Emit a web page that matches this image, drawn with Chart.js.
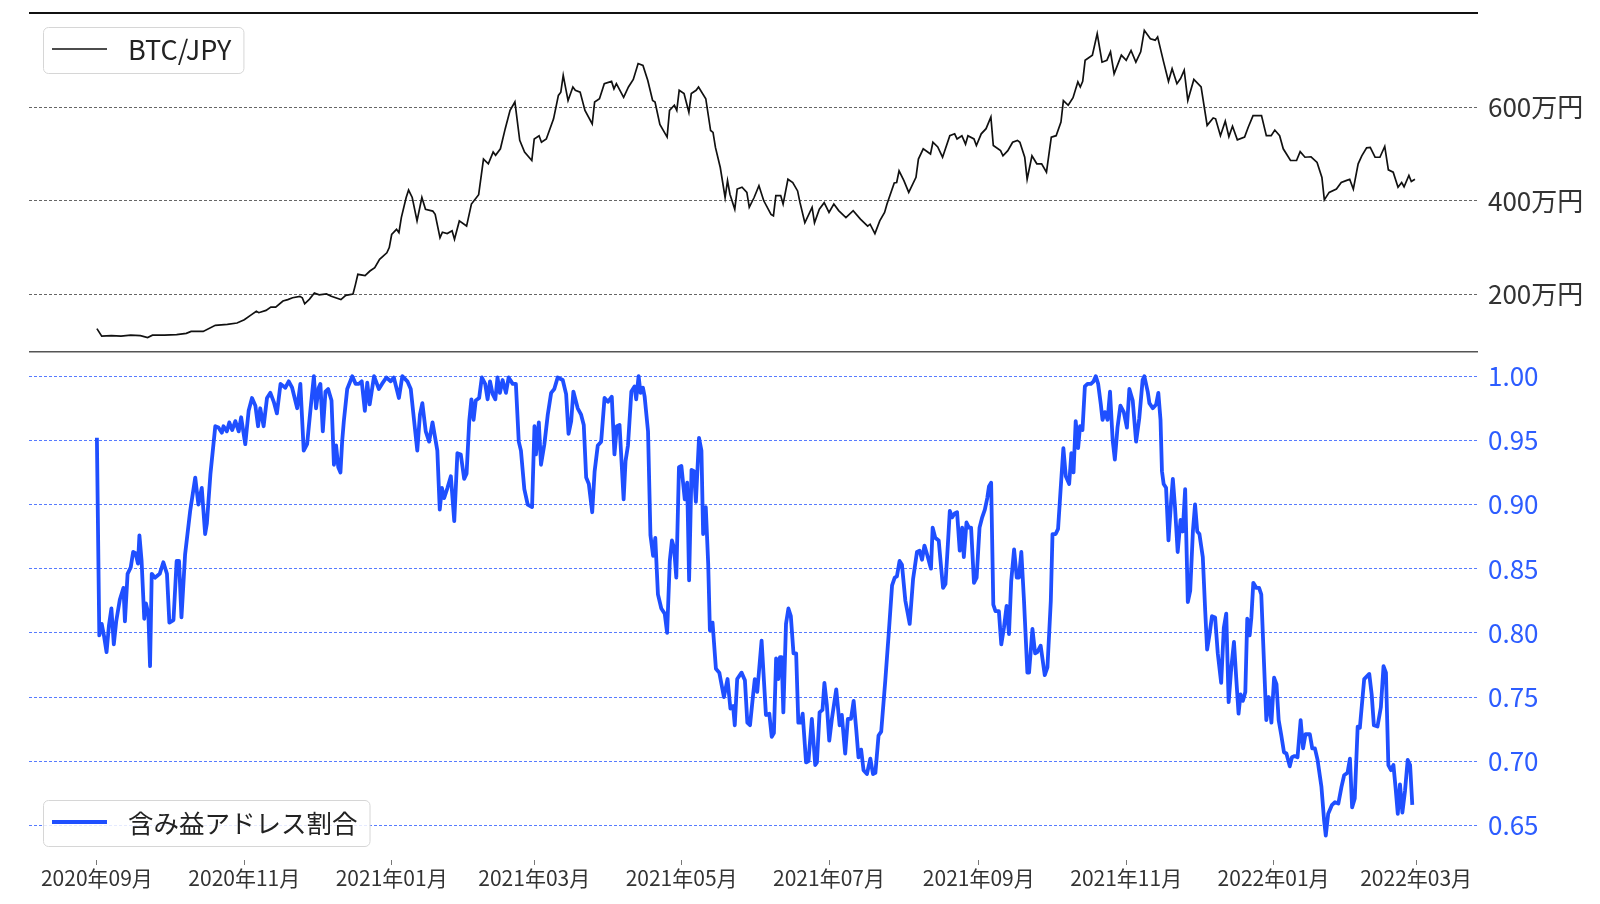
<!DOCTYPE html>
<html lang="ja">
<head>
<meta charset="utf-8">
<title>BTC/JPY と含み益アドレス割合</title>
<script src="https://cdn.jsdelivr.net/npm/chart.js@4.4.1/dist/chart.umd.min.js"></script>
<style>
  html, body { margin: 0; padding: 0; background: #fff; }
  #wrap { width: 1600px; height: 904px; position: relative; }
</style>
</head>
<body>
<div id="wrap"><canvas id="chart" width="1600" height="904"></canvas></div>
<script>
// 日数は 2020-09-01 からの経過日数
const xTickDays   = [0, 61, 122, 181, 242, 303, 365, 426, 487, 546];
const xTickLabels = ['2020年09月', '2020年11月', '2021年01月', '2021年03月', '2021年05月',
                     '2021年07月', '2021年09月', '2021年11月', '2022年01月', '2022年03月'];

const btcTicks   = [200, 400, 600];           // 万円
const ratioTicks = [0.65, 0.70, 0.75, 0.80, 0.85, 0.90, 0.95, 1.00];

// BTC/JPY (万円)
const btcDays = [
  0, 2, 6, 10, 14, 18, 21, 23, 28, 33,
  37, 39, 44, 49, 54, 58, 61, 64, 66, 67,
  70, 72, 74, 77, 79, 81, 84, 85, 86, 88,
  90, 92, 95, 97, 101, 103, 106, 107, 108, 111,
  113, 115, 117, 120, 121, 122, 124, 125, 126, 128,
  129, 130.5, 132.5, 134.5, 136, 139, 140, 142, 143, 145,
  147, 148, 150, 153, 155, 158, 160, 162, 164, 165,
  167, 169, 171, 173, 175, 177, 180, 181, 183, 184,
  186, 189, 191, 192, 193, 195, 197, 198, 200, 202,
  205, 206, 208, 210, 213, 214, 215, 218, 220, 222,
  224, 226, 228, 230, 231, 233, 236, 237, 239, 240,
  241, 243, 245, 246, 248, 249, 252, 254, 255, 256,
  258, 260, 261, 262, 264, 265, 267, 269, 270, 272,
  274, 276, 279, 280, 281, 283, 284, 286, 288, 290,
  291, 293, 296, 297, 299, 301, 303, 305, 307, 310,
  313, 316, 319, 320, 322, 324, 326, 327, 330, 331,
  332, 334, 336, 339, 340, 342, 345, 346, 348, 350,
  353, 355, 356, 358, 359.5, 360.5, 363, 364, 366, 368,
  370, 371, 374, 375, 377, 379, 381, 382, 384, 385,
  387, 389, 391, 393, 395, 397, 399, 400, 402, 404,
  406, 407, 408, 409, 412, 414, 416, 418, 419.5, 421,
  424, 426, 428, 430, 432, 433.5, 436, 438, 439, 441.5,
  443.5, 445, 447, 448.5, 450, 451.5, 454, 457, 459.5, 462,
  463, 465, 467, 468.5, 470, 472, 475, 476.5, 478.5, 482,
  484, 486, 487.5, 489.5, 491, 494, 496.5, 498, 500, 502.5,
  505, 507, 508, 510, 513, 515, 517, 518.5, 520, 522,
  523.5, 525.5, 527, 529, 531, 533, 534.5, 536.5, 538.5, 540,
  541, 543, 544, 545.5
];
const btcMan = [
  127, 111, 112, 111, 113, 112, 108, 113, 113, 114,
  117, 121, 121, 134, 136, 139, 146, 157, 164, 161,
  166, 173, 173, 186, 189, 193, 196, 193, 180, 190,
  203, 199, 201, 196, 189, 198, 201, 221, 243, 240,
  250, 257, 275, 289, 300, 328, 339, 332, 364, 407,
  423, 407, 357, 407, 382, 378, 371, 321, 333, 330,
  336, 318, 357, 346, 393, 413, 489, 479, 504, 497,
  511, 554, 593, 611, 529, 504, 486, 532, 539, 525,
  532, 575, 625, 632, 668, 614, 643, 636, 632, 593,
  564, 611, 618, 650, 655, 639, 650, 621, 643, 659,
  693, 689, 657, 614, 611, 563, 536, 593, 604, 593,
  636, 629, 589, 629, 636, 643, 618, 550, 546, 514,
  471, 407, 443, 414, 382, 425, 429, 418, 386, 407,
  432, 400, 371, 368, 411, 411, 393, 446, 439, 421,
  396, 353, 386, 353, 382, 396, 375, 393, 379, 364,
  379, 361, 346, 350, 330, 357, 375, 393, 438, 439,
  464, 443, 418, 450, 489, 511, 500, 525, 515, 493,
  539, 543, 532, 539, 521, 539, 532, 518, 543, 554,
  579, 518, 507, 496, 507, 525, 529, 525, 493, 446,
  496, 479, 479, 461, 536, 539, 568, 614, 604, 620,
  654, 643, 655, 700, 711, 757, 696, 700, 718, 671,
  711, 700, 721, 696, 718, 764, 746, 743, 750, 696,
  655, 682, 650, 661, 679, 614, 659, 643, 561, 577,
  575, 539, 570, 537, 559, 530, 536, 557, 582, 582,
  539, 539, 551, 539, 511, 486, 486, 505, 493, 494,
  482, 450, 402, 418, 425, 439, 443, 446, 425, 479,
  496, 513, 514, 493, 493, 516, 466, 461, 429, 439,
  430, 454, 441, 446
];

// 含み益アドレス割合
const ratioDays = [
  0, 1, 2, 3, 4, 5, 6, 7, 8, 9.5,
  11, 11.6, 12.7, 14, 15, 16, 17, 17.6, 18.5, 19.6,
  20.3, 21.3, 22, 22.7, 24, 26, 27.5, 29, 30, 31.7,
  33, 34, 35, 36.5, 38.6, 40.7, 42, 43.4, 44.8, 45.5,
  47, 49, 50.3, 51.7, 52.4, 53.8, 54.8, 56, 57.3, 58.7,
  59.7, 61.4, 62.8, 64.2, 65.6, 66.7, 67.6, 69, 70.4, 71.8,
  73.2, 74.5, 76, 78, 79.4, 80.8, 82.9, 84.2, 85.6, 87,
  88.4, 89.8, 90.7, 91.8, 92.5, 93.5, 94.6, 95.7, 97.1, 98.1,
  99, 99.9, 100.8, 101.5, 102.2, 103.6, 105.7, 107.1, 108.4, 109.6,
  110.9, 111.9, 112.9, 114.7, 116.7, 118, 119.8, 121.6, 122.9, 125,
  126.4, 128.5, 129.9, 131.3, 132.6, 133.7, 134.7, 136.1, 137.5, 138.9,
  140.9, 141.9, 142.8, 143.7, 145.1, 146.5, 147.9, 149.2, 150.6, 152,
  153, 154.1, 155, 155.9, 156.8, 158.2, 159.3, 160.7, 161.7, 162.7,
  163.8, 164.9, 165.8, 166.8, 167.9, 169.3, 170.4, 172.1, 173.4, 174.6,
  175.5, 176.9, 178.3, 180.1, 181.1, 181.7, 182.9, 183.8, 185.2, 186.6,
  188, 189.3, 190.7, 192.8, 194.2, 195.2, 196.3, 197.2, 199, 200.4,
  201.5, 202.5, 203.6, 205, 206, 207.3, 208.7, 210.1, 211.5, 213.1,
  214.2, 215.2, 216.3, 218, 218.8, 219.8, 221.2, 222.5, 223.2, 224.2,
  225, 226, 226.7, 228.1, 229.1, 230.2, 231.1, 232.2, 233.6, 235,
  236, 237.1, 238, 238.9, 239.8, 240.9, 241.9, 243.3, 244.3, 245.1,
  246.1, 247.1, 247.9, 249.2, 250.2, 250.9, 252, 253, 253.7, 254.8,
  256.2, 257.6, 259.5, 261, 262.2, 263.3, 264, 265, 266.8, 268.2,
  269.2, 270.3, 271.6, 272.3, 273.3, 275.1, 276.9, 278.3, 279.3, 280.2,
  281.1, 282, 282.7, 283.4, 284.1, 285.2, 286.2, 287.2, 288.3, 289.4,
  290.3, 291.4, 292.1, 293.5, 294.5, 295.9, 297.3, 298, 299.1, 300.3,
  301.1, 302.1, 303.1, 304.2, 306, 307.4, 308.3, 309.7, 310.8, 312.1,
  313.2, 314.3, 315.2, 316.3, 317.3, 318.7, 320.1, 321.2, 322.2, 323.5,
  324.6, 326.3, 327.7, 329.1, 330.2, 331.1, 332.2, 333.2, 334.6, 336.4,
  337.8, 339.4, 340.5, 341.5, 342.5, 343.6, 345.2, 345.9, 347, 348.4,
  349.4, 350.2, 351.2, 352.2, 353, 354, 355, 356, 357.1, 358.1,
  358.8, 359.9, 360.9, 361.8, 363, 364.1, 365.3, 366.4, 367.5, 368.5,
  369.2, 370.1, 371, 371.9, 373.3, 374.3, 375.4, 376.5, 377.5, 378.4,
  379.6, 380.7, 381.6, 382.6, 383.7, 385.1, 385.8, 387.2, 388.3, 389.2,
  390.6, 392.3, 393.4, 394.8, 395.5, 396.8, 397.8, 398.9, 400, 401,
  402.4, 403.3, 404.2, 405.1, 406.1, 406.9, 407.9, 408.9, 410, 411.4,
  412.5, 413.4, 414.4, 415.5, 416.2, 417.2, 418.3, 419.3, 420.4, 421.3,
  422.4, 423.6, 425, 426.3, 427.3, 428.7, 430.1, 431.4, 432.8, 433.5,
  434.9, 435.6, 437, 438.4, 439.3, 440.2, 440.8, 441.5, 442.5, 443.5,
  444.6, 445.3, 446.2, 447.3, 448.5, 449.4, 450.4, 451.5, 452.5, 453.6,
  454.5, 455.4, 456.3, 457.7, 458.7, 459.5, 460.5, 461.5, 462.8, 463.9,
  465.3, 466.4, 467.4, 468.4, 469.5, 470.6, 471.6, 472.5, 473.3, 474.3,
  475.3, 476.1, 477.1, 477.8, 478.6, 479.9, 481, 481.9, 483, 484,
  485, 486.1, 487.2, 488.2, 489.1, 490.2, 491.3, 492.3, 493.7, 494.6,
  495.7, 496.9, 498.2, 499.2, 500.2, 502, 503, 504.1, 505.2, 506.8,
  507.9, 508.6, 509.6, 511.2, 512.4, 513.8, 515.1, 516.2, 517.6, 518.6,
  519.5, 520.6, 521.8, 522.7, 524.5, 526.6, 527.6, 528.5, 530, 531.4,
  532.5, 533.5, 534.5, 535.6, 536.6, 537.5, 538.4, 539.3, 540.3, 541.4,
  542.5, 543.5, 544.4
];
const ratioValues = [
  0.952, 0.798, 0.807, 0.797, 0.785, 0.806, 0.819, 0.791, 0.809, 0.826,
  0.835, 0.809, 0.846, 0.851, 0.863, 0.862, 0.854, 0.876, 0.856, 0.811,
  0.823, 0.815, 0.774, 0.846, 0.843, 0.846, 0.855, 0.846, 0.808, 0.810,
  0.856, 0.856, 0.812, 0.861, 0.895, 0.921, 0.900, 0.913, 0.877, 0.885,
  0.924, 0.961, 0.960, 0.956, 0.961, 0.957, 0.964, 0.958, 0.965, 0.957,
  0.968, 0.947, 0.973, 0.983, 0.977, 0.961, 0.975, 0.961, 0.983, 0.987,
  0.980, 0.971, 0.994, 0.991, 0.996, 0.991, 0.975, 0.994, 0.942, 0.947,
  0.974, 1.000, 0.975, 0.991, 0.994, 0.957, 0.988, 0.990, 0.981, 0.931,
  0.946, 0.929, 0.925, 0.949, 0.965, 0.990, 1.000, 0.994, 0.994, 0.996,
  0.973, 0.995, 0.978, 1.000, 0.990, 0.994, 0.999, 0.996, 0.999, 0.983,
  1.000, 0.996, 0.990, 0.965, 0.942, 0.970, 0.979, 0.957, 0.949, 0.964,
  0.942, 0.896, 0.913, 0.905, 0.913, 0.922, 0.887, 0.940, 0.939, 0.920,
  0.924, 0.965, 0.982, 0.966, 0.981, 0.983, 0.999, 0.994, 0.982, 0.996,
  0.986, 0.982, 0.999, 0.987, 0.997, 0.987, 0.999, 0.994, 0.994, 0.949,
  0.942, 0.912, 0.900, 0.898, 0.961, 0.939, 0.964, 0.931, 0.947, 0.970,
  0.987, 0.990, 0.999, 0.997, 0.986, 0.955, 0.965, 0.988, 0.975, 0.970,
  0.962, 0.921, 0.916, 0.894, 0.926, 0.946, 0.949, 0.983, 0.980, 0.984,
  0.939, 0.961, 0.962, 0.904, 0.934, 0.946, 0.988, 0.992, 0.982, 1.000,
  0.987, 0.991, 0.984, 0.957, 0.876, 0.860, 0.874, 0.830, 0.819, 0.815,
  0.800, 0.856, 0.872, 0.866, 0.843, 0.929, 0.930, 0.904, 0.917, 0.841,
  0.927, 0.926, 0.902, 0.952, 0.942, 0.877, 0.898, 0.854, 0.802, 0.808,
  0.772, 0.769, 0.750, 0.764, 0.741, 0.743, 0.728, 0.764, 0.769, 0.763,
  0.730, 0.728, 0.752, 0.764, 0.754, 0.794, 0.736, 0.737, 0.719, 0.722,
  0.780, 0.764, 0.781, 0.781, 0.738, 0.807, 0.819, 0.813, 0.784, 0.784,
  0.730, 0.730, 0.737, 0.699, 0.700, 0.733, 0.697, 0.699, 0.738, 0.740,
  0.761, 0.744, 0.716, 0.733, 0.756, 0.728, 0.736, 0.706, 0.733, 0.733,
  0.747, 0.724, 0.703, 0.709, 0.693, 0.690, 0.702, 0.690, 0.691, 0.720,
  0.723, 0.763, 0.799, 0.837, 0.843, 0.844, 0.856, 0.853, 0.825, 0.807,
  0.842, 0.863, 0.864, 0.857, 0.868, 0.861, 0.850, 0.882, 0.874, 0.872,
  0.851, 0.835, 0.838, 0.869, 0.895, 0.890, 0.893, 0.894, 0.864, 0.882,
  0.859, 0.886, 0.882, 0.882, 0.839, 0.843, 0.882, 0.890, 0.896, 0.905,
  0.914, 0.917, 0.822, 0.817, 0.817, 0.791, 0.804, 0.821, 0.799, 0.840,
  0.865, 0.843, 0.843, 0.863, 0.825, 0.769, 0.769, 0.803, 0.784, 0.785,
  0.790, 0.767, 0.773, 0.825, 0.877, 0.877, 0.881, 0.913, 0.944, 0.922,
  0.916, 0.940, 0.925, 0.965, 0.944, 0.961, 0.958, 0.992, 0.994, 0.994,
  0.996, 1.000, 0.994, 0.978, 0.966, 0.972, 0.966, 0.988, 0.950, 0.935,
  0.960, 0.977, 0.972, 0.960, 0.990, 0.981, 0.949, 0.967, 0.997, 1.000,
  0.988, 0.979, 0.975, 0.978, 0.987, 0.966, 0.926, 0.916, 0.913, 0.872,
  0.903, 0.920, 0.898, 0.863, 0.888, 0.879, 0.912, 0.824, 0.833, 0.879,
  0.900, 0.879, 0.877, 0.859, 0.817, 0.787, 0.799, 0.813, 0.812, 0.784,
  0.761, 0.804, 0.815, 0.746, 0.773, 0.793, 0.763, 0.737, 0.752, 0.747,
  0.754, 0.811, 0.798, 0.812, 0.839, 0.835, 0.835, 0.830, 0.778, 0.732,
  0.750, 0.730, 0.765, 0.760, 0.732, 0.720, 0.707, 0.706, 0.696, 0.703,
  0.704, 0.703, 0.732, 0.710, 0.721, 0.721, 0.710, 0.710, 0.701, 0.680,
  0.654, 0.642, 0.659, 0.666, 0.668, 0.667, 0.680, 0.689, 0.691, 0.702,
  0.664, 0.671, 0.727, 0.726, 0.764, 0.768, 0.752, 0.728, 0.727, 0.742,
  0.774, 0.769, 0.697, 0.693, 0.697, 0.679, 0.659, 0.682, 0.660, 0.677,
  0.701, 0.697, 0.666
];

const FONT = '"Noto Sans CJK JP", "Noto Sans", sans-serif';
const BLUE = '#1f4fff';
const BLUE_TEXT = '#2d5dff';

const btcPoints   = btcDays.map((d, i) => ({ x: d, y: btcMan[i] }));
const ratioPoints = ratioDays.map((d, i) => ({ x: d, y: ratioValues[i] }));

// ラベルのはみ出し分の余白は要らない
const noPad = s => { s.paddingTop = 0; s.paddingBottom = 0; s.paddingLeft = 0; s.paddingRight = 0; };

// パネル上端の黒線と、上下パネルの境界線
const panelLines = {
  id: 'panelLines',
  afterDatasetsDraw(chart) {
    const { ctx, chartArea } = chart;
    const top = chart.scales.yBtc;
    ctx.save();
    ctx.strokeStyle = '#111';
    ctx.lineWidth = 2;
    ctx.beginPath();
    ctx.moveTo(chartArea.left, top.top);
    ctx.lineTo(chartArea.right, top.top);
    ctx.stroke();
    ctx.strokeStyle = '#555';
    ctx.lineWidth = 1.5;
    ctx.beginPath();
    ctx.moveTo(chartArea.left, top.bottom);
    ctx.lineTo(chartArea.right, top.bottom);
    ctx.stroke();
    ctx.restore();
  }
};

// 各パネル左上・左下の凡例
const legendBoxes = {
  id: 'legendBoxes',
  afterDraw(chart) {
    const { ctx, chartArea } = chart;
    const yb = chart.scales.yBtc, yr = chart.scales.yRatio;
    const items = [
      { text: 'BTC/JPY', size: 27, color: '#111', width: 1.7, top: yb.top + 14 },
      { text: '含み益アドレス割合', size: 25.5, color: BLUE, width: 4, top: yr.bottom - 60 },
    ];
    ctx.save();
    items.forEach(it => {
      ctx.font = `${it.size}px ${FONT}`;
      const x0 = chartArea.left + 14, h = 46;
      const textX = x0 + 85;
      const w = textX - x0 + ctx.measureText(it.text).width + 12;
      ctx.beginPath();
      ctx.roundRect(x0 + 0.5, it.top + 0.5, w, h, 5);
      ctx.fillStyle = 'rgba(255,255,255,0.85)';
      ctx.fill();
      ctx.strokeStyle = '#d6d6d6';
      ctx.lineWidth = 1;
      ctx.stroke();
      const cy = it.top + h / 2;
      ctx.strokeStyle = it.color;
      ctx.lineWidth = it.width;
      ctx.beginPath();
      ctx.moveTo(x0 + 9, cy - 1);
      ctx.lineTo(x0 + 64, cy - 1);
      ctx.stroke();
      ctx.fillStyle = '#222';
      ctx.textBaseline = 'middle';
      ctx.fillText(it.text, textX, cy);
    });
    ctx.restore();
  }
};

new Chart(document.getElementById('chart'), {
  type: 'line',
  data: {
    datasets: [
      { label: 'BTC/JPY', data: btcPoints, yAxisID: 'yBtc',
        borderColor: '#111', borderWidth: 1.7, pointRadius: 0, tension: 0 },
      { label: '含み益アドレス割合', data: ratioPoints, yAxisID: 'yRatio',
        borderColor: BLUE, borderWidth: 3.8, pointRadius: 0, tension: 0, borderJoinStyle: 'round' },
    ],
  },
  options: {
    responsive: false,
    animation: false,
    layout: { padding: { left: 29, top: 13, right: 0, bottom: 0 } },
    plugins: { legend: { display: false }, tooltip: { enabled: false } },
    scales: {
      x: {
        type: 'linear',
        min: -28.1,
        max: 571.6,
        afterBuildTicks: s => { s.ticks = xTickDays.map(v => ({ value: v })); },
        afterFit: s => { s.height = 44; noPad(s); },
        grid: { drawOnChartArea: false, drawTicks: true, tickLength: 5, color: '#777' },
        border: { display: false },
        ticks: {
          autoSkip: false, maxRotation: 0, padding: 0,
          color: '#333', font: { family: FONT, size: 21 },
          callback: v => xTickLabels[xTickDays.indexOf(v)] ?? '',
        },
      },
      yBtc: {
        position: 'right', stack: 'panels', stackWeight: 0.4,
        min: 77.5, max: 801,
        afterBuildTicks: s => { s.ticks = btcTicks.map(v => ({ value: v })); },
        afterFit: s => { s.width = 122; noPad(s); },
        grid: { drawTicks: false, color: '#666', lineWidth: 1 },
        border: { display: false, dash: [3, 2] },
        ticks: { padding: 10, color: '#333', font: { family: FONT, size: 26 },
                 callback: v => `${v}万円` },
      },
      yRatio: {
        position: 'right', stack: 'panels', stackWeight: 0.6,
        min: 0.623, max: 1.019,
        afterBuildTicks: s => { s.ticks = ratioTicks.map(v => ({ value: v })); },
        afterFit: s => { s.width = 122; noPad(s); },
        grid: { drawTicks: false, color: 'rgba(45,90,255,0.8)', lineWidth: 1 },
        border: { display: false, dash: [3, 2] },
        ticks: { padding: 10, color: BLUE_TEXT, font: { family: FONT, size: 26 },
                 callback: v => v.toFixed(2) },
      },
    },
  },
  plugins: [panelLines, legendBoxes],
});
</script>
</body>
</html>
